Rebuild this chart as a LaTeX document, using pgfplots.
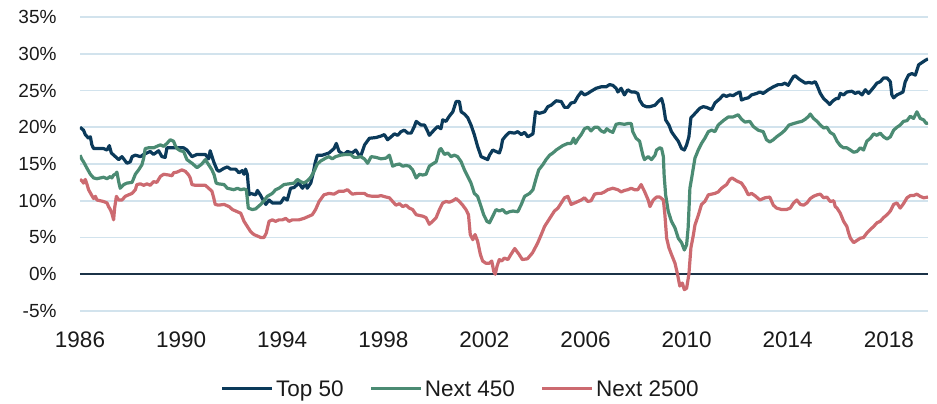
\documentclass[border=0pt]{standalone}
\usepackage{fontspec}
\setmainfont{Liberation Sans}
\usepackage{pgfplots}
\pgfplotsset{compat=1.18}
\definecolor{topc}{HTML}{0B3A5A}
\definecolor{midc}{HTML}{4B8B73}
\definecolor{smlc}{HTML}{CC6A70}
\definecolor{gridc}{HTML}{D2E3ED}
\definecolor{zeroc}{HTML}{1B3247}
\definecolor{txt}{HTML}{1A1A1A}
\begin{document}
\begin{tikzpicture}
\begin{axis}[
  scale only axis, width=848pt, height=294pt,
  xmin=1986, xmax=2019.55, ymin=-5, ymax=35,
  axis line style={draw=none}, major tick length=0pt,
  xtick={1986,1990,...,2018},
  xticklabels={1986,1990,1994,1998,2002,2006,2010,2014,2018},
  ytick={-5,0,...,35},
  yticklabels={-5\%,0\%,5\%,10\%,15\%,20\%,25\%,30\%,35\%},
  ymajorgrids, grid style={line width=1.8pt, color=gridc},
  extra y ticks={0}, extra y tick labels={},
  extra y tick style={grid style={line width=1.6pt, color=zeroc}},
  yticklabel style={font=\fontsize{19}{22}\selectfont, text=txt, xshift=-20pt},
  xticklabel style={font=\fontsize{22.5}{26}\selectfont, text=txt, yshift=-17pt},
  legend style={at={(0.449,-0.265)}, anchor=center, draw=none, fill=none,
    legend columns=3, font=\fontsize{22.5}{26}\selectfont, text=txt,
    /tikz/every even column/.append style={column sep=24pt}},
  legend image code/.code={\draw[#1] (0pt,0pt) -- (50pt,0pt);},
  every axis plot/.append style={line width=3.2pt, line join=round},
]
\addplot[topc] coordinates {
(1986.00,20.0)(1986.14,19.6)(1986.21,19.0)(1986.34,18.5)(1986.41,18.7)(1986.47,17.6)(1986.54,17.1)(1986.93,17.1)(1987.07,16.9)(1987.16,17.5)(1987.24,16.5)(1987.40,16.0)(1987.53,15.6)(1987.66,16.0)(1987.86,15.1)(1987.99,15.3)(1988.06,16.0)(1988.19,16.2)(1988.39,16.0)(1988.52,16.3)(1988.71,16.6)(1988.78,16.7)(1988.91,16.3)(1989.11,16.8)(1989.24,16.0)(1989.37,15.9)(1989.44,17.2)(1989.57,17.2)(1990.10,17.2)(1990.23,16.9)(1990.43,16.0)(1990.63,16.3)(1990.96,16.3)(1991.09,15.7)(1991.15,16.8)(1991.29,15.3)(1991.42,14.2)
(1991.50,14.0)(1991.69,14.4)(1991.83,14.6)(1991.96,14.3)(1992.16,14.3)(1992.29,13.8)(1992.42,14.1)(1992.49,13.6)(1992.55,14.3)(1992.62,13.6)(1992.69,10.8)(1992.75,11.0)(1992.95,10.8)(1993.02,11.4)(1993.15,10.7)(1993.21,10.3)(1993.28,9.9)(1993.35,9.5)(1993.48,10.1)(1993.61,9.7)(1993.94,9.7)(1994.07,10.4)(1994.20,10.1)(1994.33,11.7)(1994.47,11.8)(1994.66,12.4)(1994.80,11.7)(1994.93,12.4)(1994.99,11.7)(1995.13,12.4)(1995.23,13.8)(1995.30,15.1)(1995.39,16.2)(1995.59,16.2)(1995.85,16.5)(1996.05,17.1)(1996.14,17.8)(1996.25,16.7)(1996.44,16.3)(1996.58,16.7)(1996.77,16.5)(1996.91,16.9)(1997.04,16.2)
(1997.12,16.2)(1997.26,17.6)(1997.45,18.5)(1997.71,18.6)(1997.91,18.8)(1998.04,19.0)(1998.17,18.3)(1998.31,18.7)(1998.44,19.1)(1998.57,18.9)(1998.70,19.4)(1998.83,19.6)(1998.97,19.2)(1999.10,19.2)(1999.23,20.1)(1999.30,20.8)(1999.49,20.3)(1999.63,20.3)(1999.76,19.4)(1999.82,18.9)(1999.95,19.4)(2000.15,20.1)(2000.28,19.8)(2000.35,21.0)(2000.48,20.8)(2000.61,21.5)(2000.75,22.1)(2000.88,23.5)(2001.01,23.5)(2001.08,22.1)(2001.21,21.8)(2001.34,21.3)(2001.47,20.3)(2001.60,19.0)(2001.73,17.4)(2001.87,16.0)(2002.00,15.8)(2002.13,15.6)(2002.20,16.2)(2002.33,16.9)(2002.46,16.7)(2002.59,16.5)(2002.66,17.2)(2002.72,18.3)
(2002.86,18.9)(2002.99,19.3)(2003.19,19.2)(2003.32,19.4)(2003.46,19.0)(2003.59,19.3)(2003.72,18.7)(2003.92,19.1)(2004.02,22.1)(2004.18,21.9)(2004.38,22.1)(2004.51,22.8)(2004.64,23.0)(2004.84,23.6)(2005.04,23.5)(2005.17,22.7)(2005.30,22.7)(2005.43,23.3)(2005.57,23.4)(2005.70,24.2)(2005.83,24.8)(2005.96,24.4)(2006.09,24.6)(2006.22,24.9)(2006.42,25.3)(2006.62,25.5)(2006.82,25.5)(2006.95,25.8)(2007.08,25.7)(2007.21,25.3)(2007.28,24.8)(2007.41,25.3)(2007.54,24.4)(2007.67,25.1)(2007.81,24.8)(2007.94,24.8)(2008.07,24.6)(2008.14,23.7)(2008.27,23.0)(2008.40,22.8)
(2008.55,22.8)(2008.75,23.0)(2008.88,23.5)(2009.01,23.9)(2009.08,23.0)(2009.17,21.0)(2009.30,20.3)(2009.40,19.4)(2009.54,18.7)(2009.67,18.1)(2009.80,17.1)(2009.91,16.9)(2010.00,17.6)(2010.09,18.7)(2010.17,21.3)(2010.26,21.6)(2010.39,22.1)(2010.53,22.6)(2010.66,22.8)(2010.79,22.7)(2010.99,22.4)(2011.12,23.3)(2011.32,23.9)(2011.45,24.4)(2011.58,24.2)(2011.71,24.4)(2011.84,24.3)(2011.98,24.6)(2012.11,24.8)(2012.17,23.7)(2012.31,23.9)(2012.44,24.0)(2012.57,24.4)(2012.77,24.6)(2012.90,24.8)(2013.03,24.6)(2013.23,25.1)(2013.43,25.5)(2013.62,25.8)(2013.76,25.8)(2013.89,26.0)(2014.02,25.7)
(2014.10,26.2)(2014.23,26.9)(2014.30,27.0)(2014.43,26.6)(2014.56,26.3)(2014.70,26.0)(2014.83,26.1)(2014.96,26.0)(2015.09,26.2)(2015.16,25.7)(2015.29,24.6)(2015.42,23.9)(2015.55,23.5)(2015.66,23.1)(2015.79,23.6)(2015.92,23.9)(2016.01,23.9)(2016.08,24.6)(2016.21,24.4)(2016.34,24.8)(2016.54,24.9)(2016.67,24.6)(2016.80,24.8)(2016.94,24.4)(2017.07,25.1)(2017.20,24.6)(2017.37,25.3)(2017.53,26.0)(2017.66,26.2)(2017.79,26.7)(2017.93,26.7)(2018.06,26.2)(2018.12,24.4)(2018.19,24.0)(2018.32,24.4)(2018.45,24.6)(2018.56,24.8)(2018.65,26.2)(2018.78,27.1)(2018.91,27.3)(2019.05,27.1)(2019.18,28.5)(2019.31,28.8)(2019.44,29.1)(2019.55,29.3)
};
\addlegendentry{Top 50}
\addplot[midc] coordinates {
(1986.00,16.2)(1986.08,15.6)(1986.14,15.3)(1986.28,14.4)(1986.41,13.6)(1986.54,13.1)(1986.67,13.0)(1986.80,13.1)(1986.93,13.2)(1987.07,13.0)(1987.20,13.3)(1987.26,13.1)(1987.33,13.5)(1987.40,13.6)(1987.46,13.9)(1987.53,12.6)(1987.59,11.7)(1987.73,12.2)(1987.86,12.4)(1988.06,12.5)(1988.19,13.6)(1988.32,14.2)(1988.45,14.9)(1988.52,15.8)(1988.58,17.1)(1988.71,17.2)(1988.91,17.2)(1989.04,17.4)(1989.18,17.6)(1989.31,17.4)(1989.44,17.8)(1989.57,18.3)(1989.70,18.1)(1989.77,17.5)(1989.84,17.1)(1989.97,16.8)(1990.10,16.7)(1990.23,15.6)(1990.43,15.1)(1990.63,14.5)(1990.82,15.0)(1990.96,15.6)(1991.09,14.9)(1991.22,14.2)(1991.31,13.5)(1991.39,12.4)(1991.48,12.3)
(1991.70,12.2)(1991.83,11.7)(1991.96,11.6)(1992.09,11.5)(1992.23,11.7)(1992.36,11.5)(1992.49,11.6)(1992.58,11.5)(1992.66,9.0)(1992.82,8.8)(1992.95,8.9)(1993.15,9.5)(1993.28,10.0)(1993.41,10.6)(1993.61,11.0)(1993.74,11.5)(1993.87,11.7)(1994.07,12.2)(1994.27,12.3)(1994.47,12.4)(1994.60,12.9)(1994.73,12.6)(1994.86,12.4)(1994.99,12.7)(1995.13,13.2)(1995.26,14.0)(1995.39,15.0)(1995.52,15.4)(1995.72,15.8)(1995.85,16.0)(1995.98,15.7)(1996.11,16.0)(1996.31,16.2)(1996.51,16.3)(1996.71,16.3)(1996.84,15.9)(1996.97,15.9)(1997.10,16.0)
(1997.25,15.7)(1997.38,15.1)(1997.52,16.0)(1997.71,15.9)(1997.91,15.7)(1998.11,15.8)(1998.24,16.2)(1998.37,14.7)(1998.50,14.9)(1998.64,15.0)(1998.77,14.7)(1998.90,14.8)(1999.03,14.7)(1999.16,14.2)(1999.30,13.1)(1999.43,13.6)(1999.56,13.5)(1999.69,13.6)(1999.82,14.7)(1999.95,15.0)(2000.09,15.3)(2000.22,16.9)(2000.28,17.1)(2000.42,16.3)(2000.55,16.5)(2000.68,16.0)(2000.81,16.2)(2000.94,16.0)(2001.08,15.3)(2001.21,14.2)(2001.34,13.3)(2001.47,12.4)(2001.60,11.0)(2001.73,10.6)(2001.84,9.5)(2001.97,8.1)(2002.10,7.2)(2002.20,7.0)(2002.33,7.9)(2002.46,8.8)(2002.59,8.6)(2002.72,8.8)(2002.86,8.3)
(2002.99,8.5)(2003.13,8.6)(2003.32,8.5)(2003.46,9.5)(2003.59,10.6)(2003.79,11.0)(2003.92,11.5)(2004.05,13.1)(2004.15,14.2)(2004.31,14.9)(2004.44,15.6)(2004.58,16.2)(2004.71,16.5)(2004.84,16.9)(2004.97,17.2)(2005.10,17.5)(2005.30,17.8)(2005.43,17.8)(2005.53,18.5)(2005.60,17.8)(2005.70,18.4)(2005.83,19.0)(2005.96,19.8)(2006.09,20.0)(2006.22,19.5)(2006.36,20.0)(2006.49,20.0)(2006.62,19.5)(2006.75,19.3)(2006.84,19.8)(2006.95,19.5)(2007.08,19.3)(2007.21,20.4)(2007.34,20.5)(2007.54,20.4)(2007.67,20.5)(2007.81,20.5)(2007.87,19.4)(2008.00,18.5)(2008.14,18.1)(2008.27,16.2)(2008.33,15.6)
(2008.48,16.0)(2008.61,15.6)(2008.75,16.2)(2008.81,16.9)(2008.94,17.2)(2009.01,17.1)(2009.08,16.0)(2009.11,13.5)(2009.17,10.8)(2009.27,8.6)(2009.40,7.2)(2009.54,6.3)(2009.67,4.9)(2009.80,4.3)(2009.91,3.3)(2010.00,4.0)(2010.06,6.3)(2010.13,11.7)(2010.20,13.1)(2010.33,15.8)(2010.46,16.9)(2010.59,17.8)(2010.72,18.5)(2010.86,19.4)(2010.99,19.6)(2011.12,19.4)(2011.25,20.3)(2011.45,20.9)(2011.65,21.4)(2011.84,21.4)(2012.04,21.7)(2012.17,21.1)(2012.31,20.7)(2012.50,20.8)(2012.64,20.1)(2012.83,19.6)(2013.03,19.4)(2013.16,18.3)(2013.29,18.0)(2013.43,18.3)(2013.56,18.7)(2013.76,19.2)(2013.89,19.6)(2014.05,20.3)
(2014.23,20.5)(2014.43,20.7)(2014.56,20.8)(2014.70,21.1)(2014.83,21.5)(2014.89,21.8)(2015.02,21.2)(2015.16,20.8)(2015.29,20.3)(2015.42,19.9)(2015.55,20.0)(2015.68,19.3)(2015.82,19.0)(2015.95,18.1)(2016.08,17.5)(2016.21,17.2)(2016.34,17.2)(2016.48,16.9)(2016.61,16.6)(2016.74,16.7)(2016.87,17.2)(2017.00,16.9)(2017.13,18.1)(2017.27,18.5)(2017.40,19.1)(2017.53,18.9)(2017.66,19.2)(2017.79,18.7)(2017.93,18.4)(2018.06,18.7)(2018.19,19.6)(2018.32,20.0)(2018.45,20.3)(2018.58,20.8)(2018.72,20.9)(2018.85,21.5)(2018.98,21.2)(2019.11,22.1)(2019.24,21.2)(2019.38,21.0)(2019.48,20.5)(2019.55,20.6)
};
\addlegendentry{Next 450}
\addplot[smlc] coordinates {
(1986.00,12.9)(1986.08,12.7)(1986.14,12.4)(1986.21,12.9)(1986.28,12.2)(1986.34,11.5)(1986.47,10.7)(1986.54,10.3)(1986.61,10.6)(1986.67,10.1)(1986.80,10.0)(1986.93,9.9)(1987.07,9.7)(1987.13,9.2)(1987.20,8.8)(1987.26,8.3)(1987.33,7.4)(1987.37,9.0)(1987.44,10.6)(1987.53,10.1)(1987.66,10.1)(1987.79,10.6)(1987.92,10.8)(1988.06,11.0)(1988.19,11.5)(1988.25,12.2)(1988.39,12.3)(1988.52,12.1)(1988.65,12.3)(1988.78,12.1)(1988.91,12.6)(1989.04,12.5)(1989.18,13.3)(1989.31,13.6)(1989.51,13.5)(1989.64,13.4)(1989.70,13.8)(1989.84,13.9)(1990.03,14.2)(1990.17,14.0)(1990.30,13.5)(1990.36,13.1)(1990.43,12.2)(1990.56,12.1)(1990.69,12.1)(1990.96,12.1)(1991.09,11.7)(1991.22,11.3)(1991.29,10.4)(1991.35,9.5)(1991.48,9.4)
(1991.70,9.5)(1991.90,9.2)(1992.03,8.8)(1992.23,8.5)(1992.36,8.3)(1992.49,7.2)(1992.62,6.5)(1992.75,5.8)(1992.88,5.4)(1993.02,5.2)(1993.15,5.0)(1993.28,5.0)(1993.37,5.6)(1993.48,7.2)(1993.61,7.4)(1993.74,7.2)(1993.87,7.4)(1994.01,7.4)(1994.14,7.6)(1994.27,7.2)(1994.40,7.4)(1994.66,7.4)(1994.86,7.6)(1995.06,7.9)(1995.19,8.1)(1995.32,8.8)(1995.46,9.9)(1995.65,10.8)(1995.85,11.0)(1996.05,10.9)(1996.25,11.3)(1996.44,11.3)(1996.58,11.5)(1996.77,10.9)(1996.97,11.0)(1997.17,11.0)
(1997.25,11.0)(1997.38,10.7)(1997.58,10.6)(1997.78,10.6)(1997.91,10.7)(1998.11,10.5)(1998.24,10.4)(1998.37,9.9)(1998.50,9.4)(1998.64,9.6)(1998.77,9.2)(1998.90,9.4)(1999.03,9.0)(1999.16,8.8)(1999.30,8.1)(1999.43,8.0)(1999.56,7.9)(1999.69,7.7)(1999.82,6.8)(1999.95,7.2)(2000.09,7.7)(2000.22,8.8)(2000.35,9.7)(2000.48,9.9)(2000.61,9.8)(2000.75,10.0)(2000.88,10.3)(2001.01,9.9)(2001.14,9.4)(2001.27,8.8)(2001.37,8.1)(2001.44,5.4)(2001.54,4.7)(2001.63,5.4)(2001.73,4.5)(2001.84,2.7)(2001.93,1.8)(2002.06,1.5)(2002.20,1.5)(2002.29,1.8)(2002.37,0.4)(2002.43,0.0)(2002.50,1.1)(2002.59,2.0)(2002.68,1.8)(2002.79,2.2)(2002.93,2.0)
(2003.05,2.7)(2003.20,3.5)(2003.37,2.7)(2003.50,2.0)(2003.70,2.1)(2003.90,2.9)(2004.10,4.2)(2004.25,5.4)(2004.38,6.5)(2004.51,7.2)(2004.64,7.9)(2004.77,8.6)(2004.91,9.0)(2005.04,9.7)(2005.17,10.4)(2005.30,10.6)(2005.43,9.5)(2005.57,9.7)(2005.70,9.9)(2005.83,10.1)(2005.96,10.4)(2006.09,9.9)(2006.22,10.0)(2006.36,10.9)(2006.49,11.0)(2006.62,11.0)(2006.75,11.2)(2006.88,11.5)(2007.08,11.7)(2007.28,11.5)(2007.41,11.2)(2007.54,11.4)(2007.67,11.5)(2007.81,11.7)(2007.94,11.5)(2008.07,11.5)(2008.20,12.2)(2008.33,11.3)
(2008.48,10.1)(2008.55,9.2)(2008.68,10.1)(2008.81,10.5)(2008.94,10.5)(2009.08,10.1)(2009.14,8.1)(2009.21,4.9)(2009.30,3.6)(2009.40,2.7)(2009.54,1.5)(2009.64,0.0)(2009.73,-1.6)(2009.83,-1.2)(2009.91,-2.1)(2010.00,-1.9)(2010.09,0.0)(2010.17,3.6)(2010.26,5.2)(2010.33,6.7)(2010.46,8.0)(2010.59,9.5)(2010.72,9.9)(2010.86,10.8)(2010.99,10.9)(2011.12,11.0)(2011.25,11.2)(2011.38,11.7)(2011.58,12.2)(2011.71,12.9)(2011.80,13.1)(2011.98,12.7)(2012.17,12.4)(2012.31,11.7)(2012.44,10.8)(2012.57,11.0)(2012.70,10.7)(2012.90,10.1)(2013.10,10.4)(2013.29,10.5)(2013.43,9.4)(2013.56,9.0)(2013.76,8.8)(2013.95,8.8)
(2014.10,9.0)(2014.23,9.7)(2014.36,10.1)(2014.50,9.5)(2014.63,9.4)(2014.76,9.7)(2014.89,10.3)(2015.02,10.6)(2015.16,10.8)(2015.29,10.9)(2015.42,10.4)(2015.55,10.5)(2015.68,9.9)(2015.82,10.0)(2015.88,9.2)(2015.95,9.0)(2016.08,8.3)(2016.21,7.2)(2016.34,6.5)(2016.41,5.6)(2016.48,4.9)(2016.61,4.3)(2016.74,4.6)(2016.87,4.9)(2017.00,5.0)(2017.13,5.6)(2017.27,6.1)(2017.40,6.5)(2017.53,7.0)(2017.66,7.2)(2017.79,7.7)(2017.93,8.1)(2018.06,8.6)(2018.19,9.5)(2018.32,9.7)(2018.45,9.0)(2018.58,9.6)(2018.72,10.4)(2018.85,10.7)(2018.98,10.7)(2019.11,10.9)(2019.24,10.6)(2019.38,10.4)(2019.55,10.5)
};
\addlegendentry{Next 2500}
\end{axis}
\pgfresetboundingbox
\path ([xshift=-80pt,yshift=-93pt]current axis.south west) rectangle ([xshift=9pt,yshift=17pt]current axis.north east);
\end{tikzpicture}
\end{document}
